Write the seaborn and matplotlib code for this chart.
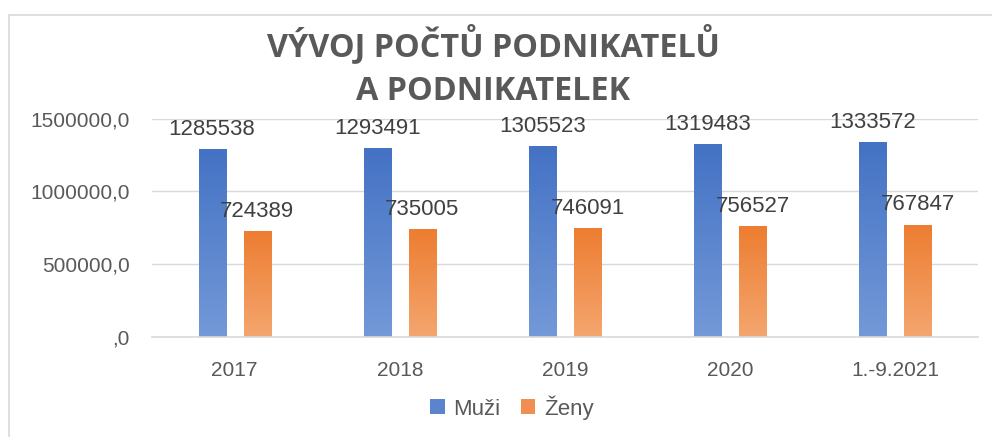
import numpy as np
import pandas as pd
import matplotlib
matplotlib.use("Agg")
import matplotlib.pyplot as plt
import seaborn as sns
from matplotlib.colors import LinearSegmentedColormap
from matplotlib.patches import Patch
from matplotlib.lines import Line2D

# data
roky = ["2017", "2018", "2019", "2020", "1.-9.2021"]
muzi = [1285538, 1293491, 1305523, 1319483, 1333572]
zeny = [724389, 735005, 746091, 756527, 767847]
serie = ["Muži", "Ženy"]
y_ticks = [0, 500000, 1000000, 1500000]
y_labels = [",0", "500000,0", "1000000,0", "1500000,0"]
titulek = "VÝVOJ POČTŮ PODNIKATELŮ\nA PODNIKATELEK"

barvy_top = ["#4472C4", "#ED7D31"]
barvy_bottom = ["#7399D8", "#F4A66F"]

df = pd.DataFrame({
    "Rok": roky * 2,
    "Pocet": muzi + zeny,
    "Pohlavi": [serie[0]] * len(roky) + [serie[1]] * len(roky),
})

sns.set_style("white")
plt.rcParams['font.family'] = ['Liberation Sans', 'DejaVu Sans']

fig = plt.figure(figsize=(9.92, 4.37), dpi=100)
ax = fig.add_axes([0.1532, 0.2288, 0.8327, 0.5])

sns.barplot(data=df, x="Rok", y="Pocet", hue="Pohlavi", palette=barvy_top,
            width=0.545, gap=0.4, ax=ax, legend=False, errorbar=None)

# gradient fill for bars
for i, cont in enumerate(ax.containers):
    cmap = LinearSegmentedColormap.from_list("g%d" % i, [barvy_bottom[i], barvy_top[i]])
    grad = np.linspace(0, 1, 256).reshape(-1, 1)
    for bar in cont:
        x0, w, h = bar.get_x(), bar.get_width(), bar.get_height()
        ax.imshow(grad, cmap=cmap, extent=[x0, x0 + w, 0, h], origin="lower",
                  aspect="auto", zorder=2)
        bar.set_visible(False)
    ax.bar_label(cont, labels=[str(int(v)) for v in cont.datavalues], padding=7,
                 fontsize=16, color="#404040")

ax.set_ylim(0, 1500000)
ax.set_xlim(-0.5, len(roky) - 0.5)

ax.set_yticks(y_ticks)
ax.set_yticklabels(y_labels)
ax.set_xlabel("")
ax.set_ylabel("")
ax.grid(axis="y", color="#D9D9D9", linewidth=1.0)
ax.set_axisbelow(True)
for s in ["top", "right", "left"]:
    ax.spines[s].set_visible(False)
ax.spines["bottom"].set_color("#D9D9D9")
ax.spines["bottom"].set_linewidth(1.2)
ax.tick_params(axis="both", length=0, labelsize=15, labelcolor="#595959")
ax.tick_params(axis="x", pad=17)
ax.tick_params(axis="y", pad=16)

fig.text(0.497, 0.753, titulek, ha="center", va="bottom", fontsize=23.3,
         fontweight="bold", color="#595959", linespacing=1.45,
         family=["Open Sans", "DejaVu Sans"])

handles = [Patch(facecolor=c, edgecolor="none") for c in ["#5A84CE", "#F08F4F"]]
fig.legend(handles, serie, loc="center", bbox_to_anchor=(0.516, 0.068), ncol=2,
           frameon=False, fontsize=16, labelcolor="#595959", handlelength=0.65,
           handleheight=0.65, handletextpad=0.4, columnspacing=0.9)

# chart area border
fig.add_artist(Line2D([0.009, 1.0], [0.966, 0.966], color="#D9D9D9", lw=1.2,
                      transform=fig.transFigure))
fig.add_artist(Line2D([0.009, 0.009], [0.0, 0.966], color="#D9D9D9", lw=1.2,
                      transform=fig.transFigure))

fig.savefig("out.png", dpi=100)
